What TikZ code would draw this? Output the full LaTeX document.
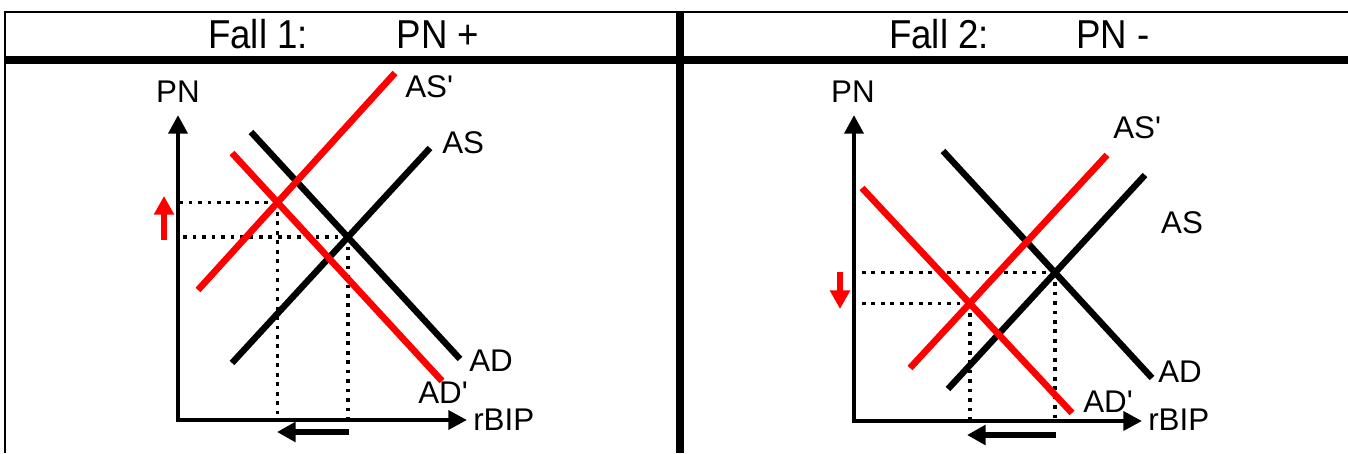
\documentclass[tikz,border=0pt]{standalone}
\usepackage{fontspec}
\usepackage{graphicx}
\setmainfont{Liberation Sans}
\usetikzlibrary{arrows.meta}
\newcommand{\pr}{\textquotesingle}
\newcommand{\tallhdr}[1]{\scalebox{1}[1.1]{#1}}
\begin{document}
\begin{tikzpicture}[x=0.75pt,y=-0.75pt,
  lbl/.style={font=\fontsize{23.5}{28}\selectfont, inner sep=0pt},
  hdr/.style={font=\fontsize{27.5}{32}\selectfont, inner sep=0pt},
  blackcurve/.style={line width=4.8pt},
  redcurve/.style={line width=5pt, red},
  axes/.style={line width=3.4pt, line join=miter, {Triangle[width=14pt,length=14pt]}-{Triangle[width=14pt,length=14pt]}},
  guide/.style={line width=2.6pt, dash pattern=on 2.8pt off 4.3pt},
  shiftarrow/.style={line width=4pt, -{Triangle[width=14.5pt,length=14pt]}},
]
\useasboundingbox (0,0) rectangle (1348,453);
% frame
\draw[line width=2pt] (5,453) -- (5,12) -- (1348,12);
\draw[line width=6.5pt] (5,60) -- (1348,60);
\draw[line width=6pt] (680,12) -- (680,453);
% headers
\node[hdr] (h1a) at (258,34.5) {\tallhdr{Fall 1:}};
\node[hdr] (h1b) at (438,34.5) {\tallhdr{PN +}};
\node[hdr] (h2a) at (939,34.5) {\tallhdr{Fall 2:}};
\node[hdr] (h2b) at (1113,34.5) {\tallhdr{PN -}};

% ---------- left panel ----------
\coordinate (o1) at (178,420);
\coordinate (y1) at (178,115);
\coordinate (x1) at (467,420);
\coordinate (as1a) at (232,363); \coordinate (as1b) at (430,148);
\coordinate (ad1a) at (251,132); \coordinate (ad1b) at (460,359);
\coordinate (asp1a) at (198,290); \coordinate (asp1b) at (395,73);
\coordinate (adp1a) at (232,153); \coordinate (adp1b) at (442,381);
\coordinate (e1) at (intersection of as1a--as1b and ad1a--ad1b);
\coordinate (f1) at (intersection of asp1a--asp1b and adp1a--adp1b);
\draw[guide] (e1) -- (e1 -| o1);
\draw[guide] (e1) -- (e1 |- o1);
\draw[guide] (f1) -- (f1 -| o1);
\draw[guide] (f1) -- (f1 |- o1);
\draw[axes] (y1) -- (o1) -- (x1);
\draw[blackcurve] (as1a) -- (as1b);
\draw[blackcurve] (ad1a) -- (ad1b);
\draw[redcurve] (asp1a) -- (asp1b);
\draw[redcurve] (adp1a) -- (adp1b);
\node[lbl] (pn1) at (178,92) {PN};
\node[lbl, anchor=west] (asp1) at (405,87) {AS\pr};
\node[lbl, anchor=west] (as1) at (442,143) {AS};
\node[lbl, anchor=west] (ad1) at (469,361) {AD};
\node[lbl, anchor=west] (adp1) at (418,393) {AD\pr};
\node[lbl, anchor=west] (bip1) at (473,420) {rBIP};
\coordinate (ru0) at (164,240); \coordinate (ru1) at (164,196);
\draw[shiftarrow, red] (ru0) -- (ru1);
\coordinate (bl0) at (349,432); \coordinate (bl1) at (277,432);
\draw[shiftarrow] (bl0) -- (bl1);

% ---------- right panel ----------
\coordinate (o2) at (854,421);
\coordinate (y2) at (854,115);
\coordinate (x2) at (1142,421);
\coordinate (as2a) at (948,389); \coordinate (as2b) at (1145,175);
\coordinate (ad2a) at (943,151); \coordinate (ad2b) at (1152,378);
\coordinate (asp2a) at (910,368); \coordinate (asp2b) at (1107,155);
\coordinate (adp2a) at (862,188); \coordinate (adp2b) at (1072,413);
\coordinate (e2) at (intersection of as2a--as2b and ad2a--ad2b);
\coordinate (f2) at (intersection of asp2a--asp2b and adp2a--adp2b);
\draw[guide] (e2) -- (e2 -| o2);
\draw[guide] (e2) -- (e2 |- o2);
\draw[guide] (f2) -- (f2 -| o2);
\draw[guide] (f2) -- (f2 |- o2);
\draw[axes] (y2) -- (o2) -- (x2);
\draw[blackcurve] (as2a) -- (as2b);
\draw[blackcurve] (ad2a) -- (ad2b);
\draw[redcurve] (asp2a) -- (asp2b);
\draw[redcurve] (adp2a) -- (adp2b);
\node[lbl] (pn2) at (853,92) {PN};
\node[lbl, anchor=west] (asp2) at (1113,128) {AS\pr};
\node[lbl] (as2) at (1182,223) {AS};
\node[lbl, anchor=west] (ad2) at (1158,372) {AD};
\node[lbl, anchor=west] (adp2) at (1083,402) {AD\pr};
\node[lbl, anchor=west] (bip2) at (1148,420) {rBIP};
\coordinate (rd0) at (840,272); \coordinate (rd1) at (840,309);
\draw[shiftarrow, red] (rd0) -- (rd1);
\coordinate (br0) at (1056,435); \coordinate (br1) at (967,435);
\draw[shiftarrow] (br0) -- (br1);
\end{tikzpicture}
\end{document}
